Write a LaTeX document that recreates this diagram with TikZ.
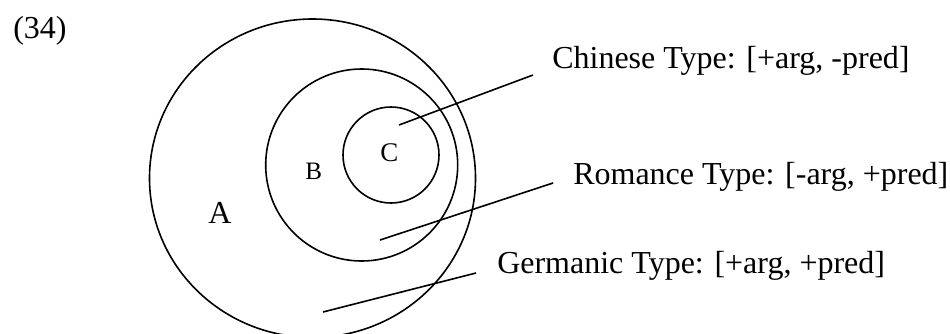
\documentclass[tikz,border=0pt]{standalone}
\usepackage{fontspec}
\setmainfont{Liberation Serif}
\begin{document}
\begin{tikzpicture}[x=0.75pt,y=-0.75pt,
  ring/.style={draw=black,line width=1.2pt},
  leader/.style={draw=black,line width=1.2pt},
  lbl/.style={anchor=base west,inner sep=0pt,font=\fontsize{24}{28}\selectfont},
  setlbl/.style={anchor=base west,inner sep=0pt}]
\useasboundingbox (0,0) rectangle (950,333);
\begin{scope}
\clip (0,0) rectangle (950,333);
\draw[ring] (312.5,178.2) ellipse [x radius=163, y radius=159.2];
\draw[ring] (361.7,165) circle [radius=96];
\draw[ring] (391,155) circle [radius=48];
\end{scope}
\node[lbl] (num) at (13,38) {(34)};
\node[setlbl,font=\fontsize{24}{28}\selectfont] (A) at (208,223) {A};
\node[setlbl,font=\fontsize{18.8}{22}\selectfont] (B) at (305,179) {B};
\node[setlbl,font=\fontsize{20.2}{24}\selectfont] (C) at (380,161.5) {C};
\node[lbl] (chinese) at (552,68.5) {Chinese Type: [+arg, -pred]};
\node[lbl] (romance) at (573,184) {Romance Type: [-arg, +pred]};
\node[lbl] (germanic) at (497,273) {Germanic Type: [+arg, +pred]};
\coordinate (c1) at (399,125);
\coordinate (c2) at (533,75);
\coordinate (r1) at (380,240);
\coordinate (r2) at (553,183);
\coordinate (g1) at (323,312);
\coordinate (g2) at (476,273);
\draw[leader] (c1) -- (c2);
\draw[leader] (r1) -- (r2);
\draw[leader] (g1) -- (g2);
\end{tikzpicture}
\end{document}
